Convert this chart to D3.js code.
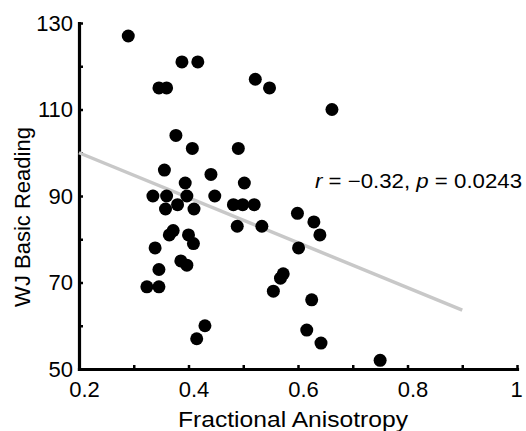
<!DOCTYPE html>
<html>
<head>
<meta charset="utf-8">
<script src="https://cdn.jsdelivr.net/npm/d3@7"></script>
<style>
  body { margin: 0; background: #fff; }
  text { font-family: "Liberation Sans", Arial, Helvetica, sans-serif; fill: #000; }
</style>
</head>
<body>
<svg id="chart" width="526" height="431"></svg>
<script>
// fractional anisotropy (x) and WJ basic reading score (y), one entry per subject
const faValues = [
    0.290, 0.388, 0.417, 0.346, 0.360, 0.522, 0.548, 0.662, 0.377, 0.407,
    0.491, 0.356, 0.441, 0.394, 0.502, 0.335, 0.360, 0.397, 0.448, 0.482,
    0.499, 0.520, 0.358, 0.380, 0.410, 0.599, 0.489, 0.534, 0.372, 0.365,
    0.400, 0.409, 0.339, 0.601, 0.629, 0.640, 0.346, 0.324, 0.346, 0.386,
    0.397, 0.430, 0.415, 0.573, 0.568, 0.555, 0.625, 0.616, 0.642, 0.750
];
const readingScores = [
    127, 121, 121, 115, 115, 117, 115, 110, 104, 101,
    101, 96, 95, 93, 93, 90, 90, 90, 90, 88,
    88, 88, 87, 88, 87, 86, 83, 83, 82, 81,
    81, 79, 78, 78, 84, 81, 73, 69, 69, 75,
    74, 60, 57, 72, 71, 68, 66, 59, 56, 52
];

// regression line end points
const fitX = [0.2, 0.9];
const fitY = [100, 63.6];

const xTicks = [0.2, 0.4, 0.6, 0.8, 1];
const xTickLabels = ["0.2", "0.4", "0.6", "0.8", "1"];
const xMinorTicks = [0.3, 0.5, 0.7, 0.9];
const yTicks = [50, 70, 90, 110, 130];
const yMinorTicks = [60, 80, 100, 120];

let svg = d3.select("#chart");

let xScale = d3.scaleLinear().domain([0.2, 1]).range([79, 517]);
let yScale = d3.scaleLinear().domain([50, 130]).range([369, 23]);

// minor ticks (inward, no labels)
svg.append("g")
    .attr("transform", "translate(0," + yScale(50) + ")")
    .call(d3.axisBottom(xScale).tickValues(xMinorTicks).tickSize(-4).tickSizeOuter(0).tickFormat(""))
    .call(g => g.select(".domain").remove());

svg.append("g")
    .attr("transform", "translate(" + xScale(0.2) + ",0)")
    .call(d3.axisLeft(yScale).tickValues(yMinorTicks).tickSize(-4).tickSizeOuter(0).tickFormat(""))
    .call(g => g.select(".domain").remove());

// x axis
let xAxis = svg.append("g")
    .attr("transform", "translate(0," + yScale(50) + ")")
    .call(d3.axisBottom(xScale)
        .tickValues(xTicks)
        .tickSize(-4)
        .tickSizeOuter(0)
        .tickPadding(16)
        .tickFormat((d, i) => xTickLabels[i]));

xAxis.selectAll("text")
    .attr("font-size", "22px")
    .attr("dx", d => (d === 1 ? -1 : 5))
    .attr("dy", "0.55em");

// y axis
let yAxis = svg.append("g")
    .attr("transform", "translate(" + xScale(0.2) + ",0)")
    .call(d3.axisLeft(yScale)
        .tickValues(yTicks)
        .tickSize(-4)
        .tickSizeOuter(0)
        .tickPadding(6));

yAxis.selectAll("text").attr("font-size", "22px");

svg.selectAll(".domain")
    .attr("stroke", "#000")
    .attr("stroke-width", 3.2)
    .attr("stroke-linecap", "square");
svg.selectAll(".tick line").attr("stroke", "#000").attr("stroke-width", 2.5);
svg.selectAll(".tick text").attr("font-family", "Liberation Sans, Arial, sans-serif").attr("fill", "#000");

// regression line
svg.append("line")
    .attr("x1", xScale(fitX[0]))
    .attr("y1", yScale(fitY[0]))
    .attr("x2", xScale(fitX[1]))
    .attr("y2", yScale(fitY[1]))
    .attr("stroke", "#c8c8c8")
    .attr("stroke-width", 3.5);

// points
svg.append("g")
    .selectAll("circle")
    .data(faValues)
    .enter()
    .append("circle")
    .attr("cx", d => xScale(d))
    .attr("cy", (d, i) => yScale(readingScores[i]))
    .attr("r", 6.5)
    .attr("fill", "#000");

// axis titles
svg.append("text")
    .attr("x", 293)
    .attr("y", 427)
    .attr("text-anchor", "middle")
    .attr("font-size", "22px")
    .attr("textLength", 230)
    .attr("lengthAdjust", "spacingAndGlyphs")
    .text("Fractional Anisotropy");

svg.append("text")
    .attr("transform", "translate(30,217) rotate(-90)")
    .attr("text-anchor", "middle")
    .attr("font-size", "22px")
    .text("WJ Basic Reading");

// correlation label
let stat = svg.append("text")
    .attr("x", 315)
    .attr("y", 188)
    .attr("font-size", "20px")
    .attr("textLength", 207)
    .attr("lengthAdjust", "spacingAndGlyphs");
stat.append("tspan").attr("font-style", "italic").text("r");
stat.append("tspan").text(" = \u22120.32, ");
stat.append("tspan").attr("font-style", "italic").text("p");
stat.append("tspan").text(" = 0.0243");
</script>
</body>
</html>
